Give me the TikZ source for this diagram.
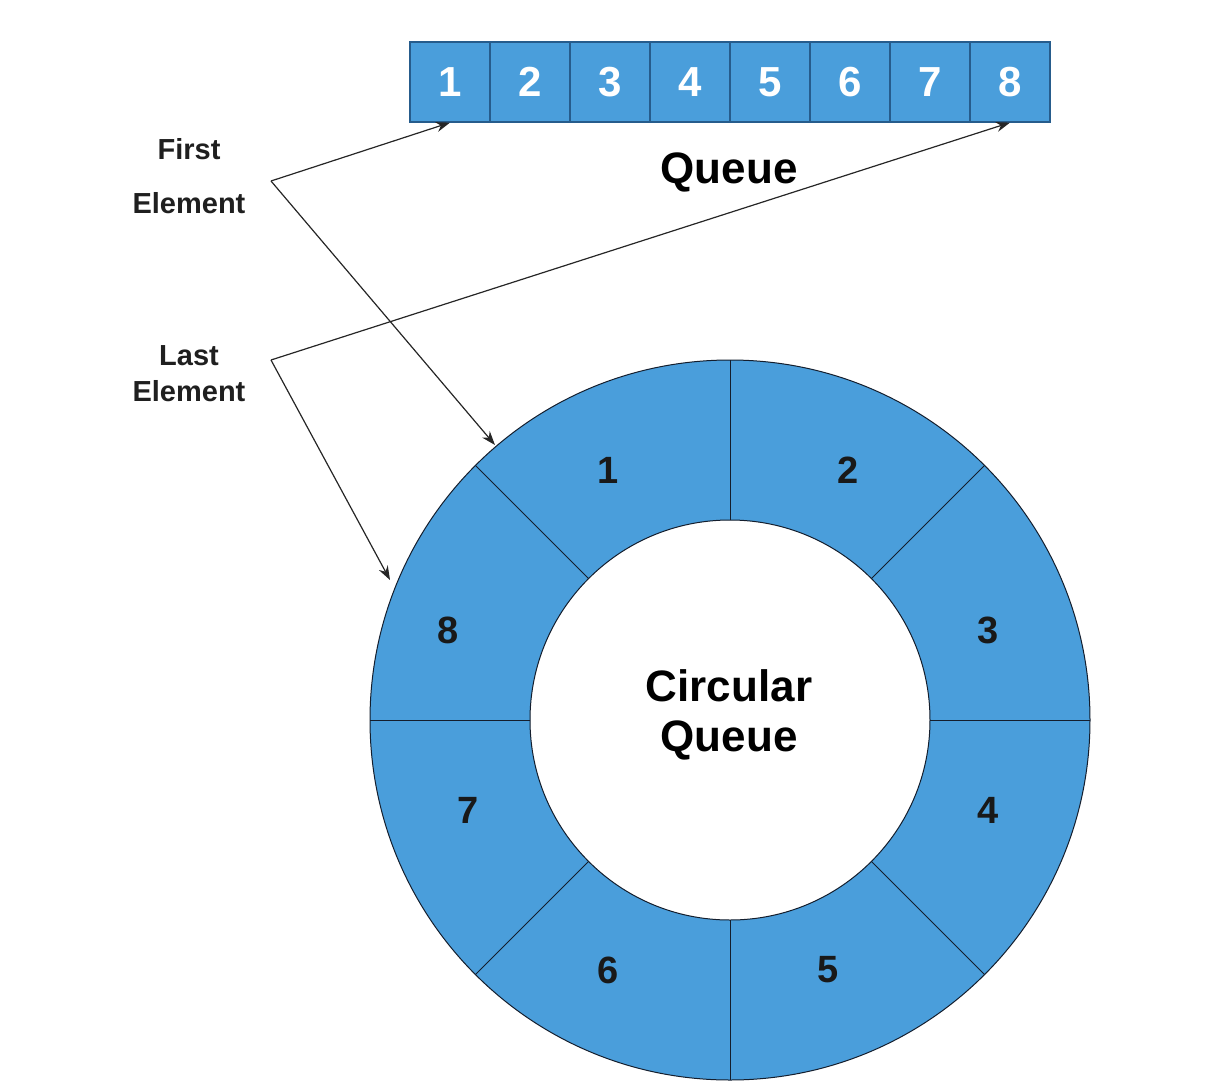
\documentclass[tikz,border=0pt]{standalone}
\usepackage{fontspec}
\setmainfont{Liberation Sans}
\usetikzlibrary{arrows.meta,calc}
\definecolor{qblue}{RGB}{74,158,219}
\definecolor{qedge}{RGB}{38,92,140}
\definecolor{ringedge}{RGB}{20,30,45}
\begin{document}
\begin{tikzpicture}[x=0.5pt,y=-0.5pt,
  cell/.style={draw=qedge, line width=0.6pt, fill=qblue, minimum width=40pt, minimum height=40pt, inner sep=0pt, font=\fontsize{21}{21}\selectfont\bfseries, text=white},
  lab/.style={font=\fontsize{14.5}{17}\selectfont\bfseries, text=black!88, inner sep=0pt},
  big/.style={font=\fontsize{22}{25}\selectfont\bfseries, text=black, inner sep=0pt},
  num/.style={font=\fontsize{19}{21}\selectfont\bfseries, text=black!90, inner sep=0pt},
  ptr/.style={-{Stealth[length=7pt,width=5pt]}, line width=0.6pt, black!85},
  ring/.style={draw=ringedge, line width=0.5pt}]
\useasboundingbox (0,0) rectangle (1222,1082);
% linear queue
\foreach \i in {1,...,8}
  \node[cell] (q\i) at ({370+80*\i},82) {\i};
\node[big] (qtitle) at (729,172) {Queue};
% circular queue
\coordinate (cc) at (730,720);
\fill[qblue, even odd rule] (cc) circle[radius=180pt] (cc) circle[radius=100pt];
\draw[ring] (cc) circle[radius=180pt];
\draw[ring] (cc) circle[radius=100pt];
\foreach \a in {0,45,...,315}
  \draw[ring] ($(cc)+(\a:100pt)$) -- ($(cc)+(\a:180pt)$);
\node[num] (c1) at (608,470) {1};
\node[num] (c2) at (848,470) {2};
\node[num] (c3) at (988,630) {3};
\node[num] (c4) at (988,810) {4};
\node[num] (c5) at (828,970) {5};
\node[num] (c6) at (608,970) {6};
\node[num] (c7) at (468,810) {7};
\node[num] (c8) at (448,630) {8};
\node[big] (ctitle1) at (729,686) {Circular};
\node[big] (ctitle2) at (729,740) {Queue};
% labels
\node[lab] (first) at (189,149) {First};
\node[lab] (firstel) at (189,203) {Element};
\node[lab] (last) at (189,356) {Last};
\node[lab] (lastel) at (189,391) {Element};
% pointers
\coordinate (fv) at (271,181);
\coordinate (lv) at (271,360);
\coordinate (c1tip) at (495,445);
\coordinate (c8tip) at (390,580);
\draw[ptr] (fv) -- (q1.south);
\draw[ptr] (fv) -- (c1tip);
\draw[ptr] (lv) -- (q8.south);
\draw[ptr] (lv) -- (c8tip);
\end{tikzpicture}
\end{document}
